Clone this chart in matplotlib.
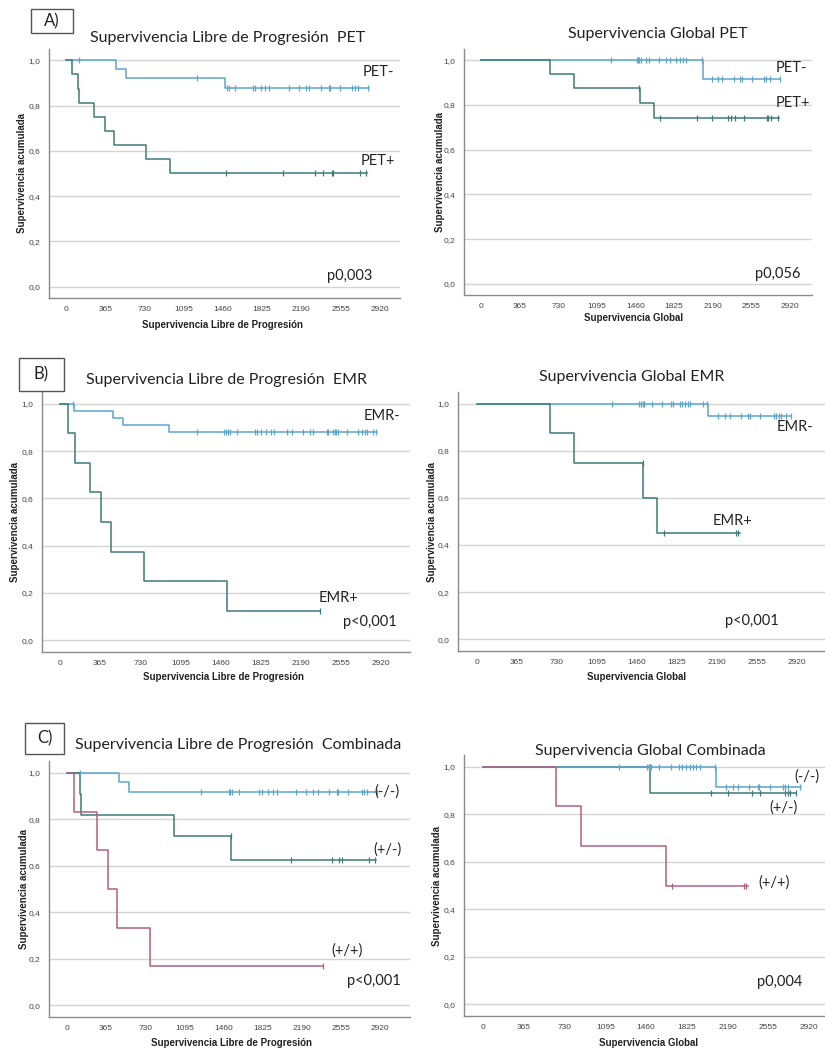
"""
Kaplan-Meier curves (PFS / OS) by PET, EMR and the combined grouping.
Three rows of panels, left = libre de progresión, right = global.
"""

import numpy as np
import matplotlib.pyplot as plt
from matplotlib.patches import Rectangle

# ---- data: event days, survival after each event, last follow-up, censored days ----

# A) PFS PET
PFS_PET_NEG_EVENTS = [468, 557, 1480]
PFS_PET_NEG_SURV = [0.962, 0.923, 0.877]
PFS_PET_NEG_END = 2818
PFS_PET_NEG_CENS = [118, 1217, 1496, 1514, 1573, 1737, 1762, 1815, 1852, 1892, 2072,
                    2168, 2230, 2261, 2369, 2443, 2456, 2549, 2657, 2688, 2713, 2812]
PFS_PET_POS_EVENTS = [53, 108, 125, 263, 365, 443, 746, 969]
PFS_PET_POS_SURV = [0.9375, 0.875, 0.8125, 0.75, 0.6875, 0.625, 0.5625, 0.5]
PFS_PET_POS_END = 2797
PFS_PET_POS_CENS = [1487, 2022, 2316, 2394, 2471, 2487, 2735, 2787]

# A) OS PET
OS_PET_NEG_EVENTS = [2094]
OS_PET_NEG_SURV = [0.917]
OS_PET_NEG_END = 2831
OS_PET_NEG_CENS = [1225, 1471, 1484, 1497, 1510, 1562, 1584, 1682, 1751, 1786, 1839, 1880,
                   1912, 1937, 2088, 2180, 2243, 2280, 2391, 2447, 2463, 2564, 2677, 2693,
                   2731, 2831]
OS_PET_POS_EVENTS = [655, 882, 1502, 1638]
OS_PET_POS_SURV = [0.9375, 0.875, 0.808, 0.74]
OS_PET_POS_END = 2819
OS_PET_POS_CENS = [1496, 1691, 2038, 2183, 2331, 2362, 2403, 2488, 2699, 2715, 2740, 2803]

# B) PFS EMR
PFS_EMR_NEG_EVENTS = [128, 485, 576, 991]
PFS_EMR_NEG_SURV = [0.970, 0.940, 0.909, 0.879]
PFS_EMR_NEG_END = 2881
PFS_EMR_NEG_CENS = [122, 1243, 1492, 1510, 1525, 1546, 1607, 1774, 1795, 1826, 1871, 1917,
                    1947, 2068, 2107, 2213, 2274, 2305, 2426, 2441, 2486, 2501, 2516, 2532,
                    2608, 2714, 2744, 2774, 2795, 2844, 2875]
PFS_EMR_POS_EVENTS = [70, 136, 273, 373, 461, 767, 1516]
PFS_EMR_POS_SURV = [0.875, 0.75, 0.625, 0.5, 0.375, 0.25, 0.125]
PFS_EMR_POS_END = 2365
PFS_EMR_POS_CENS = [2365]

# B) OS EMR
OS_EMR_NEG_EVENTS = [2109]
OS_EMR_NEG_SURV = [0.946]
OS_EMR_NEG_END = 2865
OS_EMR_NEG_CENS = [1229, 1481, 1496, 1511, 1527, 1599, 1690, 1766, 1790, 1851, 1875, 1899,
                   1924, 1948, 2058, 2094, 2200, 2261, 2307, 2413, 2474, 2495, 2586, 2710,
                   2731, 2756, 2777, 2822, 2862]
OS_EMR_POS_EVENTS = [662, 883, 1517, 1645]
OS_EMR_POS_SURV = [0.875, 0.75, 0.6, 0.45]
OS_EMR_POS_END = 2400
OS_EMR_POS_CENS = [1511, 1705, 2361, 2382]

# C) PFS combined
PFS_NN_EVENTS = [481, 578]
PFS_NN_SURV = [0.958, 0.917]
PFS_NN_END = 2895
PFS_NN_CENS = [124, 1252, 1507, 1522, 1538, 1609, 1792, 1817, 1879, 1919, 1957, 2137, 2230,
               2299, 2339, 2445, 2516, 2532, 2625, 2749, 2774, 2796, 2895]
PFS_PN_EVENTS = [118, 134, 994, 1532]
PFS_PN_SURV = [0.909, 0.818, 0.727, 0.623]
PFS_PN_END = 2879
PFS_PN_CENS = [1526, 2091, 2470, 2541, 2563, 2821, 2873]
PFS_PP_EVENTS = [62, 280, 379, 466, 777]
PFS_PP_SURV = [0.833, 0.667, 0.5, 0.333, 0.167]
PFS_PP_END = 2392
PFS_PP_CENS = [2392]

# C) OS combined
OS_NN_EVENTS = [2087]
OS_NN_SURV = [0.917]
OS_NN_END = 2845
OS_NN_CENS = [1219, 1472, 1484, 1493, 1508, 1576, 1680, 1754, 1781, 1820, 1850, 1880, 1909,
              1939, 2080, 2177, 2236, 2281, 2385, 2459, 2468, 2569, 2682, 2706, 2733, 2837]
OS_PN_EVENTS = [1499]
OS_PN_SURV = [0.889]
OS_PN_END = 2806
OS_PN_CENS = [1487, 2043, 2192, 2409, 2483, 2703, 2727, 2751, 2801]
OS_PP_EVENTS = [654, 877, 1635]
OS_PP_SURV = [0.833, 0.667, 0.5]
OS_PP_END = 2376
OS_PP_CENS = [1695, 2334, 2355]

X_TICKS = [0, 365, 730, 1095, 1460, 1825, 2190, 2555, 2920]
Y_TICKS = [0.0, 0.2, 0.4, 0.6, 0.8, 1.0]
Y_TICK_LABELS = ["0,0", "0,2", "0,4", "0,6", "0,8", "1,0"]

BLUE = "#5ea6cb"
TEAL = "#3f7b78"
MAUVE = "#b0607c"

W, H = 825, 1054
TITLE_FONT = "Lato"
AXIS_FONT = "Liberation Sans"

PANELS = [
    dict(box=(49, 49, 400, 298), xlim=(-158, 3107),
         title="Supervivencia Libre de Progresión  PET", title_xy=(228, 38),
         xlabel="Supervivencia Libre de Progresión", xlabel_xy=(222, 325), ylabel_x=22,
         tag="A)", tag_box=(31, 9, 73, 33),
         curves=[(PFS_PET_NEG_EVENTS, PFS_PET_NEG_SURV, PFS_PET_NEG_END, PFS_PET_NEG_CENS, BLUE),
                 (PFS_PET_POS_EVENTS, PFS_PET_POS_SURV, PFS_PET_POS_END, PFS_PET_POS_CENS, TEAL)],
         texts=[("PET-", 2905, 0.948), ("PET+", 2905, 0.557), ("p0,003", 2642, 0.047)]),
    dict(box=(464, 49, 812, 295), xlim=(-161, 3129),
         title="Supervivencia Global PET", title_xy=(658, 34),
         xlabel="Supervivencia Global", xlabel_xy=(634, 318), ylabel_x=440,
         curves=[(OS_PET_NEG_EVENTS, OS_PET_NEG_SURV, OS_PET_NEG_END, OS_PET_NEG_CENS, BLUE),
                 (OS_PET_POS_EVENTS, OS_PET_POS_SURV, OS_PET_POS_END, OS_PET_POS_CENS, TEAL)],
         texts=[("PET-", 2935, 0.964), ("PET+", 2951, 0.807), ("p0,056", 2809, 0.042)]),
    dict(box=(42, 392, 410, 652), xlim=(-164, 3185),
         title="Supervivencia Libre de Progresión  EMR", title_xy=(227, 380),
         xlabel="Supervivencia Libre de Progresión", xlabel_xy=(223, 677), ylabel_x=15,
         tag="B)", tag_box=(19, 358, 64, 391),
         curves=[(PFS_EMR_NEG_EVENTS, PFS_EMR_NEG_SURV, PFS_EMR_NEG_END, PFS_EMR_NEG_CENS, BLUE),
                 (PFS_EMR_POS_EVENTS, PFS_EMR_POS_SURV, PFS_EMR_POS_END, PFS_EMR_POS_CENS, TEAL)],
         texts=[("EMR-", 2926, 0.949), ("EMR+", 2532, 0.177), ("p<0,001", 2820, 0.077)]),
    dict(box=(458, 392, 825, 651), xlim=(-173, 3175),
         title="Supervivencia Global EMR", title_xy=(632, 377),
         xlabel="Supervivencia Global", xlabel_xy=(637, 677), ylabel_x=432,
         curves=[(OS_EMR_NEG_EVENTS, OS_EMR_NEG_SURV, OS_EMR_NEG_END, OS_EMR_NEG_CENS, BLUE),
                 (OS_EMR_POS_EVENTS, OS_EMR_POS_SURV, OS_EMR_POS_END, OS_EMR_POS_CENS, TEAL)],
         texts=[("EMR-", 2898, 0.902), ("EMR+", 2331, 0.501), ("p<0,001", 2504, 0.078)]),
    dict(box=(49, 761, 410, 1017), xlim=(-168, 3200),
         title="Supervivencia Libre de Progresión  Combinada", title_xy=(238, 745),
         xlabel="Supervivencia Libre de Progresión", xlabel_xy=(231, 1043), ylabel_x=24,
         tag="C)", tag_box=(25, 723, 64, 754),
         curves=[(PFS_NN_EVENTS, PFS_NN_SURV, PFS_NN_END, PFS_NN_CENS, BLUE),
                 (PFS_PN_EVENTS, PFS_PN_SURV, PFS_PN_END, PFS_PN_CENS, TEAL),
                 (PFS_PP_EVENTS, PFS_PP_SURV, PFS_PP_END, PFS_PP_CENS, MAUVE)],
         texts=[("(-/-)", 2988, 0.917), ("(+/-)", 2988, 0.669), ("(+/+)", 2616, 0.237),
                ("p<0,001", 2864, 0.104)]),
    dict(box=(464, 755, 825, 1016), xlim=(-170, 3062),
         title="Supervivencia Global Combinada", title_xy=(650, 751),
         xlabel="Supervivencia Global", xlabel_xy=(649, 1043), ylabel_x=437,
         curves=[(OS_PN_EVENTS, OS_PN_SURV, OS_PN_END, OS_PN_CENS, TEAL),
                 (OS_NN_EVENTS, OS_NN_SURV, OS_NN_END, OS_NN_CENS, BLUE),
                 (OS_PP_EVENTS, OS_PP_SURV, OS_PP_END, OS_PP_CENS, MAUVE)],
         texts=[("(-/-)", 2896, 0.959), ("(+/-)", 2688, 0.828), ("(+/+)", 2608, 0.511),
                ("p0,004", 2658, 0.092)]),
]


def fx(px):
    return px / W


def fy(py):
    return 1 - py / H


def draw_km(ax, events, surv, end, cens, color):
    xs = [0] + list(events) + [end]
    ys = [1.0] + list(surv) + [surv[-1]]
    ax.step(xs, ys, where="post", color=color, linewidth=1.1, zorder=3)
    # censored marks sit on the curve at their day
    idx = np.searchsorted(np.asarray(events), np.asarray(cens), side="right")
    levels = np.asarray([1.0] + list(surv))[idx]
    ax.plot(cens, levels, linestyle="none", marker="|", markersize=4.5,
            markeredgewidth=0.9, color=color, zorder=4)


def main():
    fig = plt.figure(figsize=(W / 100, H / 100), dpi=100)
    fig.patch.set_facecolor("white")

    for p in PANELS:
        left, top, right, bottom = p["box"]
        ax = fig.add_axes([fx(left), fy(bottom), fx(right - left), (bottom - top) / H])
        ax.set_xlim(*p["xlim"])
        ax.set_ylim(-0.05, 1.05)
        for side in ("top", "right"):
            ax.spines[side].set_visible(False)
        for side in ("left", "bottom"):
            ax.spines[side].set_color("#8a8a8a")
            ax.spines[side].set_linewidth(1.0)
        ax.set_yticks(Y_TICKS)
        ax.set_yticklabels(Y_TICK_LABELS)
        ax.set_xticks(X_TICKS)
        ax.tick_params(length=0, labelsize=6, labelcolor="#444444", pad=6)
        for lab in ax.get_xticklabels() + ax.get_yticklabels():
            lab.set_family(AXIS_FONT)
        ax.yaxis.grid(True, color="#d4d4d4", linewidth=1.0)
        ax.set_axisbelow(True)

        for events, surv, end, cens, color in p["curves"]:
            draw_km(ax, events, surv, end, cens, color)

        for txt, x, y in p["texts"]:
            ax.text(x, y, txt, ha="center", va="center", fontsize=10.5,
                    family=TITLE_FONT, color="#222222", zorder=5)

        tx, ty = p["title_xy"]
        fig.text(fx(tx), fy(ty), p["title"], ha="center", va="center",
                 fontsize=11.5, family=TITLE_FONT, color="#222222")
        lx, ly = p["xlabel_xy"]
        fig.text(fx(lx), fy(ly), p["xlabel"], ha="center", va="center",
                 fontsize=7, fontweight="bold", family=AXIS_FONT, color="#222222")
        fig.text(fx(p["ylabel_x"]), fy((top + bottom) / 2), "Supervivencia acumulada",
                 ha="center", va="center", rotation=90, fontsize=7, fontweight="bold",
                 family=AXIS_FONT, color="#222222")

        if "tag" in p:
            bl, bt, br, bb = p["tag_box"]
            fig.patches.append(Rectangle((fx(bl), fy(bb)), fx(br - bl), (bb - bt) / H,
                                         transform=fig.transFigure, fill=False,
                                         edgecolor="#555555", linewidth=1.0))
            fig.text(fx((bl + br) / 2), fy((bt + bb) / 2), p["tag"], ha="center",
                     va="center", fontsize=12, family=TITLE_FONT, color="#222222")

    fig.savefig("out.png", dpi=100)


if __name__ == "__main__":
    main()
